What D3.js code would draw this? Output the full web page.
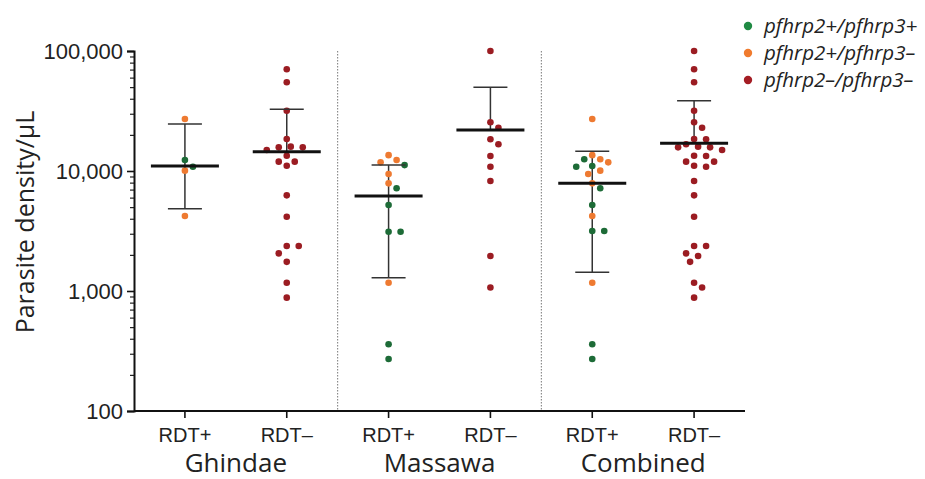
<!DOCTYPE html>
<html>
<head>
<meta charset="utf-8">
<script src="https://cdn.jsdelivr.net/npm/d3@7"></script>
<style>
  body { margin: 0; background: #fff; }
  svg { font-family: "Open Sans", sans-serif; }
</style>
</head>
<body>
<div id="chart"></div>
<script>
// Set size
let w = 925;
let h = 479;
let padLeft = 134, padRight = 745, padTop = 51, padBottom = 411;

// categories and labels
let categories = ["ghindaePos", "ghindaeNeg", "massawaPos", "massawaNeg", "combinedPos", "combinedNeg"];
let rdtLabels = ["RDT+", "RDT–", "RDT+", "RDT–", "RDT+", "RDT–"];
let sites = ["Ghindae", "Massawa", "Combined"];
let yTicks = [100, 1000, 10000, 100000];

// genotype codes: g = pfhrp2+/pfhrp3+, o = pfhrp2+/pfhrp3–, r = pfhrp2–/pfhrp3–
let genotypes = ["g", "o", "r"];
let genotypeLabels = ["pfhrp2+/pfhrp3+", "pfhrp2+/pfhrp3–", "pfhrp2–/pfhrp3–"];

// parasite densities (per µL) and genotype of each sample
let ghindaePos = [[27100, "o"], [12360, "g"], [10860, "g"], [10070, "o"], [4220, "o"]];
let ghindaeNeg = [[70400, "r"], [54850, "r"], [31800, "r"], [18500, "r"], [15950, "r"], [15750, "r"],
  [15750, "r"], [14960, "r"], [13410, "r"], [11960, "r"], [11960, "r"], [11070, "r"], [6270, "r"],
  [4160, "r"], [2370, "r"], [2370, "r"], [2060, "r"], [1750, "r"], [1170, "r"], [880, "r"]];
let massawaPos = [[13560, "o"], [12360, "o"], [11810, "o"], [11200, "g"], [9440, "o"], [7890, "o"],
  [7180, "g"], [5210, "g"], [3120, "g"], [3120, "g"], [1170, "o"], [360, "g"], [271, "g"]];
let massawaNeg = [[100000, "r"], [25470, "r"], [22960, "r"], [18370, "r"], [16690, "r"], [13340, "r"],
  [10860, "r"], [8260, "r"], [1960, "r"], [1070, "r"]];
let combinedPos = [[27100, "o"], [13560, "o"], [12520, "o"], [12520, "g"], [11810, "o"], [11000, "g"],
  [10860, "g"], [10070, "o"], [9440, "o"], [7890, "o"], [7180, "g"], [5210, "g"], [4220, "o"],
  [3160, "g"], [3160, "g"], [1170, "o"], [360, "g"], [271, "g"]];
let combinedNeg = [[100000, "r"], [70400, "r"], [54850, "r"], [31800, "r"], [25470, "r"], [22960, "r"],
  [18500, "r"], [18370, "r"], [16690, "r"], [15950, "r"], [15750, "r"], [15750, "r"], [14960, "r"],
  [13410, "r"], [13340, "r"], [11960, "r"], [11960, "r"], [11070, "r"], [10860, "r"], [8260, "r"],
  [6270, "r"], [4160, "r"], [2370, "r"], [2370, "r"], [2060, "r"], [1960, "r"], [1750, "r"],
  [1170, "r"], [1070, "r"], [880, "r"]];
let points = [ghindaePos, ghindaeNeg, massawaPos, massawaNeg, combinedPos, combinedNeg];

// geometric mean and error bar limits (lower missing for RDT– groups)
let means = [11000, 14490, 6190, 21960, 7890, 17030];
let upper = [24600, 32700, 11200, 49800, 14590, 38540];
let lower = [4850, null, 1290, null, 1430, null];

let colors = d3.scaleOrdinal().domain(genotypes).range(["#1d6b37", "#ee7a31", "#9b1c22"]);
let legendColors = d3.scaleOrdinal().domain(genotypes).range(["#1f8a43", "#f07b2e", "#a41d24"]);

let xScale = d3.scaleBand().domain(categories).range([padLeft, padRight]).padding(0);
let yScale = d3.scaleLog().domain([100, 100000]).range([padBottom, padTop]);

let svg = d3.select("#chart").append("svg").attr("width", w).attr("height", h);

// dotted separators between sites
svg.selectAll("line.sep")
  .data([categories[2], categories[4]])
  .enter()
  .append("line")
  .attr("class", "sep")
  .attr("x1", (d) => xScale(d))
  .attr("x2", (d) => xScale(d))
  .attr("y1", padTop)
  .attr("y2", padBottom)
  .attr("stroke", "#777")
  .attr("stroke-width", 1)
  .attr("stroke-dasharray", "1.5,1.5");

// y axis, major and minor ticks
let minor = [];
for (let p = 100; p < 100000; p *= 10) {
  for (let k = 2; k <= 9; k++) minor.push(p * k);
}
svg.append("g")
  .attr("transform", "translate(" + padLeft + ",0)")
  .call(d3.axisLeft(yScale).tickValues(minor).tickSize(4).tickFormat(""))
  .call((g) => g.select(".domain").remove())
  .call((g) => g.selectAll("line").attr("stroke", "#222").attr("stroke-width", 1.2));
let yAxis = svg.append("g")
  .attr("transform", "translate(" + padLeft + ",0)")
  .call(d3.axisLeft(yScale).tickValues(yTicks).tickSize(7).tickPadding(4).tickFormat(d3.format(",")));
yAxis.select(".domain").attr("stroke", "#111").attr("stroke-width", 2);
yAxis.selectAll("line").attr("stroke", "#111").attr("stroke-width", 1.6);
yAxis.selectAll("text").attr("font-size", "22px").attr("fill", "#222");

// x axis
let xAxis = svg.append("g")
  .attr("transform", "translate(0," + padBottom + ")")
  .call(d3.axisBottom(xScale).tickSize(7).tickPadding(10).tickFormat((d, i) => rdtLabels[i]));
xAxis.select(".domain").attr("stroke", "#111").attr("stroke-width", 2).attr("d", "M" + padLeft + ",0H" + padRight);
xAxis.selectAll("line").attr("stroke", "#111").attr("stroke-width", 1.6);
xAxis.selectAll("text").attr("font-size", "20px").attr("fill", "#222");

// site labels
svg.selectAll("text.site")
  .data(sites)
  .enter()
  .append("text")
  .attr("class", "site")
  .attr("x", (d, i) => xScale(categories[i * 2]) + xScale.bandwidth())
  .attr("y", 472)
  .attr("text-anchor", "middle")
  .attr("font-size", "26px")
  .attr("fill", "#222")
  .text((d) => d);

// axis title
svg.append("text")
  .attr("transform", "translate(34,222) rotate(-90)")
  .attr("text-anchor", "middle")
  .attr("font-size", "25px")
  .attr("fill", "#222")
  .text("Parasite density/µL");

// swarm layout so dots do not overlap
function swarm(list, cx) {
  let placed = [];
  let minDist = 8.5;
  list.forEach((d) => {
    let y = yScale(d[0]);
    let found = null;
    for (let k = 0; k < 20 && found === null; k++) {
      let offs = k === 0 ? [0] : [k * 4, -k * 4];
      for (let dx of offs) {
        let ok = placed.every((p) => Math.hypot(p.x - (cx + dx), p.y - y) >= minDist);
        if (ok) { found = cx + dx; break; }
      }
    }
    placed.push({ x: found, y: y, g: d[1] });
  });
  return placed;
}

let half = xScale.bandwidth() / 2;

categories.forEach((c, i) => {
  let cx = xScale(c) + half;
  let g = svg.append("g");
  let lo = lower[i] === null ? means[i] : lower[i];

  // vertical line
  g.append("line")
    .attr("x1", cx).attr("x2", cx)
    .attr("y1", yScale(upper[i])).attr("y2", yScale(lo))
    .attr("stroke", "#333").attr("stroke-width", 1.5);

  // dots
  g.selectAll("circle")
    .data(swarm(points[i], cx))
    .enter()
    .append("circle")
    .attr("cx", (d) => d.x)
    .attr("cy", (d) => d.y)
    .attr("r", 3.3)
    .attr("fill", (d) => colors(d.g));

  // caps
  let caps = lower[i] === null ? [upper[i]] : [upper[i], lower[i]];
  g.selectAll("line.cap")
    .data(caps)
    .enter()
    .append("line")
    .attr("class", "cap")
    .attr("x1", cx - 17).attr("x2", cx + 17)
    .attr("y1", (d) => yScale(d)).attr("y2", (d) => yScale(d))
    .attr("stroke", "#333").attr("stroke-width", 1.5);

  // mean
  g.append("line")
    .attr("x1", cx - 34).attr("x2", cx + 34)
    .attr("y1", yScale(means[i])).attr("y2", yScale(means[i]))
    .attr("stroke", "#111").attr("stroke-width", 3);
});

// legend
let legend = svg.selectAll("g.legend")
  .data(genotypes)
  .enter()
  .append("g")
  .attr("class", "legend")
  .attr("transform", (d, i) => "translate(748," + (26 + i * 27) + ")");
legend.append("circle").attr("r", 4.2).attr("fill", (d) => legendColors(d));
legend.append("text")
  .attr("x", 16)
  .attr("dy", "0.35em")
  .attr("font-size", "20.5px")
  .attr("font-style", "italic")
  .attr("fill", "#222")
  .text((d, i) => genotypeLabels[i]);
</script>
</body>
</html>
